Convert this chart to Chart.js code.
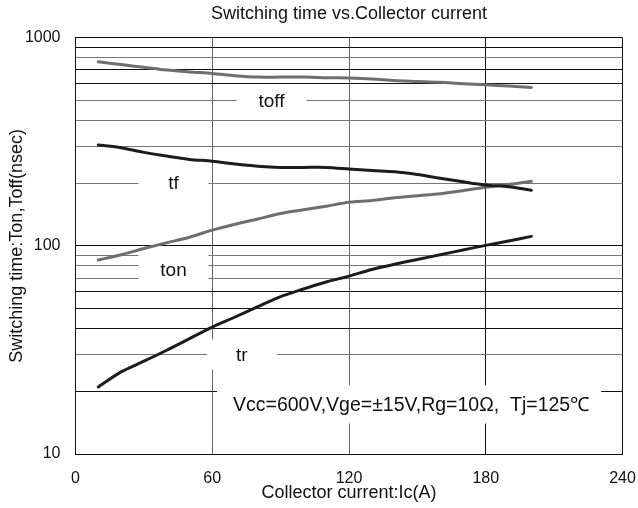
<!DOCTYPE html>
<html>
<head>
<meta charset="utf-8">
<script src="https://cdn.jsdelivr.net/npm/chart.js@4.4.1/dist/chart.umd.min.js"></script>
<style>
  html, body { margin: 0; padding: 0; background: #fff; }
  #wrap { width: 638px; height: 508px; }
</style>
</head>
<body>
<div id="wrap"><canvas id="chart" width="638" height="508"></canvas></div>
<script>
// collector current (A)
const ic = [10, 20, 30, 40, 50, 60, 70, 80, 90, 100, 110, 120, 130, 140, 150, 160, 170, 180, 190, 200];

// switching times (nsec)
const toff = [765, 742, 720, 698, 684, 673, 656, 646, 646, 646, 642, 639, 633, 622, 616, 610, 600, 593, 585, 576];
const tf = [305, 296, 281, 270, 260, 255, 247, 241, 238, 238, 238, 234, 230, 227, 220, 211, 203, 196, 192, 185];
const ton = [85.5, 90.5, 97, 103.5, 110, 119, 127, 134.5, 143, 149, 155, 162, 165, 170, 174, 178, 184, 191, 197, 204];
const tr = [21, 24.8, 27.9, 31.5, 35.8, 40.7, 45.5, 51, 57, 62, 67, 71.5, 77, 81.5, 86, 90.5, 95.5, 100.5, 105.5, 111];

const yTicks = [10, 20, 30, 40, 50, 60, 70, 80, 90, 100, 200, 300, 400, 500, 600, 700, 800, 900, 1000];
const yLabels = [10, 100, 1000];
const xTicks = [0, 60, 120, 180, 240];

const FONT = "'Liberation Sans', Arial, sans-serif";
const GRAY = '#6e6e6e';
const BLACK = '#1c1c1c';

// some grid lines in the scan are darker than others
const darkY = [20, 40, 50, 60, 100, 600, 700, 900, 1000];
const darkX = [0, 180, 240];

// curve labels sitting on broken grid lines (x in A, y in nsec, box in px)
const notes = [
  { text: 'toff', x: 86, y: 500, w: 70, h: 22 },
  { text: 'tf', x: 43, y: 200, w: 70, h: 22 },
  { text: 'ton', x: 43, y: 76.5, w: 70, h: 34 },
  { text: 'tr', x: 73, y: 30, w: 70, h: 30 },
];
const cond = 'Vcc=600V,Vge=±15V,Rg=10Ω,  Tj=125℃';

const series = (vals) => ic.map((x, i) => ({ x: x, y: vals[i] }));

const labelPlugin = {
  id: 'labels',
  beforeDatasetsDraw(chart) {
    const ctx = chart.ctx;
    const xs = chart.scales.x, ys = chart.scales.y;
    ctx.save();
    ctx.font = '19px ' + FONT;
    ctx.textAlign = 'center';
    ctx.textBaseline = 'middle';
    notes.forEach(n => {
      const px = xs.getPixelForValue(n.x);
      const py = ys.getPixelForValue(n.y);
      ctx.fillStyle = '#fff';
      ctx.fillRect(px - n.w / 2, py - n.h / 2, n.w, n.h);
      ctx.fillStyle = '#111';
      ctx.fillText(n.text, px, py + 1);
    });

    // conditions box
    const l = xs.getPixelForValue(62.1), r = xs.getPixelForValue(230.6);
    const t = ys.getPixelForValue(21.4), b = ys.getPixelForValue(14);
    ctx.fillStyle = '#fff';
    ctx.fillRect(l, t, r - l, b - t);
    ctx.fillStyle = '#111';
    ctx.textAlign = 'left';
    ctx.font = '19.5px ' + FONT;
    ctx.fillText(cond, xs.getPixelForValue(69.1), (t + b) / 2 + 1);
    ctx.restore();
  }
};

new Chart(document.getElementById('chart'), {
  type: 'line',
  data: {
    datasets: [
      { label: 'toff', data: series(toff), borderColor: GRAY, borderWidth: 3 },
      { label: 'tf', data: series(tf), borderColor: BLACK, borderWidth: 3 },
      { label: 'ton', data: series(ton), borderColor: GRAY, borderWidth: 3 },
      { label: 'tr', data: series(tr), borderColor: BLACK, borderWidth: 3 },
    ]
  },
  options: {
    responsive: false,
    animation: false,
    events: [],
    layout: { padding: { left: 0, right: 15.5, top: 0, bottom: 0 } },
    elements: {
      point: { radius: 0 },
      line: { tension: 0.3, fill: false, borderCapStyle: 'round' }
    },
    plugins: {
      legend: { display: false },
      tooltip: { enabled: false },
      title: {
        display: true,
        fullSize: false,
        text: 'Switching time vs.Collector current',
        color: '#111',
        font: { family: FONT, size: 18, weight: 'normal' },
        padding: { top: 3, bottom: 13 }
      }
    },
    scales: {
      x: {
        type: 'linear',
        min: 0,
        max: 240,
        afterBuildTicks: (s) => { s.ticks = xTicks.map(v => ({ value: v })); },
        afterFit: (s) => {
          s.height = 54;
          s.paddingLeft = 0;
          s.paddingRight = 0;
        },
        ticks: {
          padding: 15,
          color: '#111',
          font: { family: FONT, size: 16 },
          maxRotation: 0
        },
        grid: {
          drawTicks: false,
          lineWidth: 1,
          color: (c) => darkX.includes(c.tick && c.tick.value) ? '#111' : '#666'
        },
        border: { color: '#111', width: 1 },
        title: {
          display: true,
          text: 'Collector current:Ic(A)',
          color: '#111',
          font: { family: FONT, size: 18 },
          padding: { top: 0, bottom: 4 }
        }
      },
      y: {
        type: 'logarithmic',
        min: 10,
        max: 1000,
        afterBuildTicks: (s) => { s.ticks = yTicks.map(v => ({ value: v, major: yLabels.includes(v) })); },
        afterFit: (s) => {
          s.width = 75.5;
          s.paddingTop = 0;
          s.paddingBottom = 0;
        },
        ticks: {
          autoSkip: false,
          padding: 15,
          color: '#111',
          font: { family: FONT, size: 16 },
          callback: (v) => yLabels.includes(v) ? String(v) : ''
        },
        grid: {
          drawTicks: false,
          lineWidth: 1,
          color: (c) => darkY.includes(c.tick && c.tick.value) ? '#111' : '#777'
        },
        border: { color: '#111', width: 1 },
        title: {
          display: true,
          text: 'Switching time:Ton,Toff(nsec)',
          color: '#111',
          font: { family: FONT, size: 18 },
          padding: { top: 6, bottom: 0 }
        }
      }
    }
  },
  plugins: [labelPlugin]
});
</script>
</body>
</html>
